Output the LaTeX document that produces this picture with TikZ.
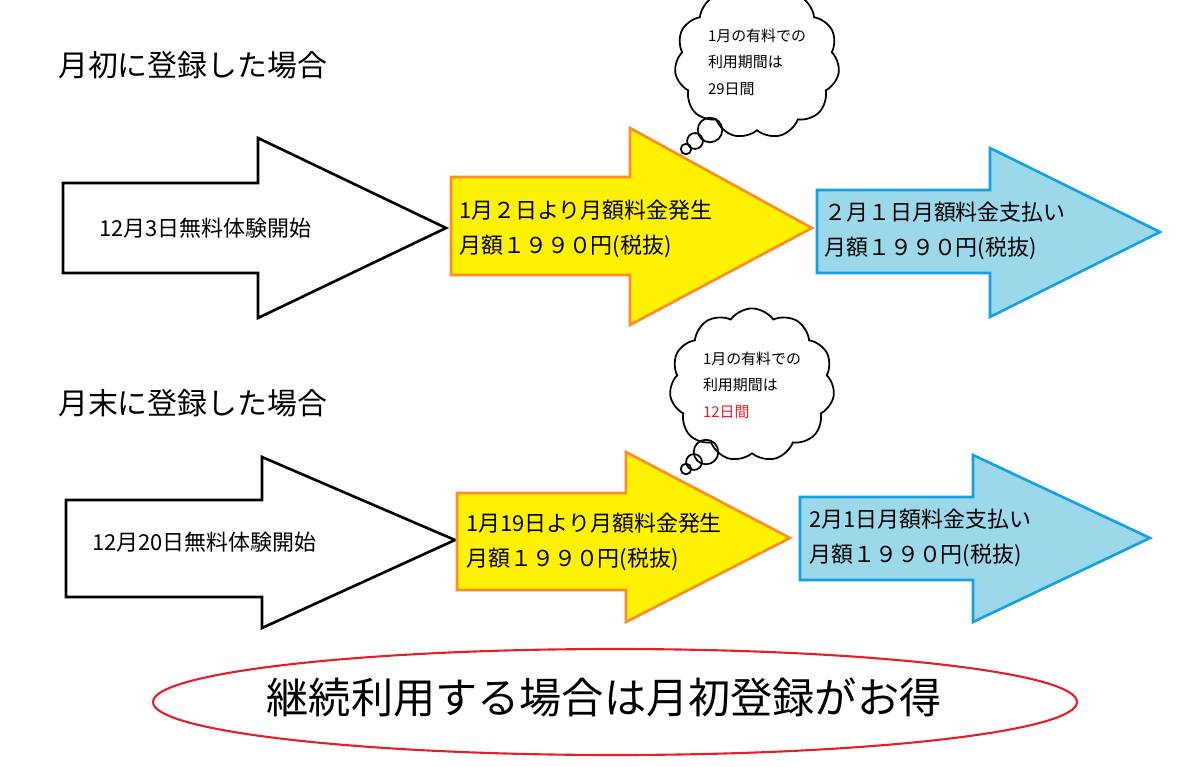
\documentclass[tikz,border=0pt]{standalone}
\usepackage{fontspec}
\setmainfont{Noto Sans CJK JP}
\usetikzlibrary{shapes.symbols}
\definecolor{YELLOW}{RGB}{255, 242, 0}
\definecolor{ORANGE}{RGB}{255, 140, 40}
\definecolor{SKY}{RGB}{155, 216, 234}
\definecolor{BLUE}{RGB}{20, 160, 225}
\definecolor{RED}{RGB}{230, 30, 40}
\tikzset{
  label/.style={anchor=west, font=\fontsize{12.5}{20}\selectfont, align=left},
  title/.style={anchor=west, font=\fontsize{17}{20}\selectfont},
  thought/.style={cloud, cloud puffs=11, cloud puff arc=110, draw, line width=1pt, minimum width=3.3cm, minimum height=2.5cm, inner sep=0pt, font=\fontsize{8.5}{15}\selectfont, align=left},
  bubble/.style={circle, draw, line width=1pt, inner sep=0pt}
}
\begin{document}
\begin{tikzpicture}[x=0.02cm, y=-0.02cm]
				\useasboundingbox (0,0) rectangle (1200,767);
				% first row
				\node[title] (t1) at (52,65) {月初に登録した場合};
				\draw[line width=1.5pt, fill=white] (63,183) -- (258,183) -- (258,138) -- (446,228) -- (258,318) -- (258,273) -- (63,273) -- cycle;
				\draw[line width=1.5pt, color=ORANGE, fill=YELLOW] (451,177) -- (630,177) -- (630,128) -- (812,228) -- (630,325) -- (630,275) -- (451,275) -- cycle;
				\draw[line width=1.5pt, color=BLUE, fill=SKY] (817,190) -- (990,190) -- (990,148) -- (1160,232) -- (990,317) -- (990,273) -- (817,273) -- cycle;
				\node[label] (a1) at (93,228) {12月3日無料体験開始};
				\node[label] (b1) at (453,229) {1月２日より月額料金発生\\月額１９９０円(税抜)};
				\node[label] (c1) at (818,231) {２月１日月額料金支払い\\月額１９９０円(税抜)};
				\node[thought] (k1) at (757,62) {1月の有料での\\利用期間は\\29日間};
				\node[bubble, minimum size=14pt] (p1) at (710,130) {};
				\node[bubble, minimum size=9pt] (q1) at (695,141) {};
				\node[bubble, minimum size=6pt] (r1) at (686,149) {};
				% second row
				\node[title] (t2) at (52,403) {月末に登録した場合};
				\draw[line width=1.5pt, fill=white] (66,500) -- (262,500) -- (262,457) -- (455,540) -- (262,628) -- (262,597) -- (66,597) -- cycle;
				\draw[line width=1.5pt, color=ORANGE, fill=YELLOW] (457,493) -- (626,493) -- (626,452) -- (790,538) -- (626,622) -- (626,590) -- (457,590) -- cycle;
				\draw[line width=1.5pt, color=BLUE, fill=SKY] (800,497) -- (973,497) -- (973,455) -- (1150,538) -- (973,622) -- (973,580) -- (800,580) -- cycle;
				\node[label] (a2) at (86,542) {12月20日無料体験開始};
				\node[label] (b2) at (460,542) {1月19日より月額料金発生\\月額１９９０円(税抜)};
				\node[label] (c2) at (803,538) {2月1日月額料金支払い\\月額１９９０円(税抜)};
				\node[thought] (k2) at (752,385) {1月の有料での\\利用期間は\\\textcolor{RED}{12日間}};
				\node[bubble, minimum size=14pt] (p2) at (706,452) {};
				\node[bubble, minimum size=9pt] (q2) at (694,462) {};
				\node[bubble, minimum size=6pt] (r2) at (686,469) {};
				% summary
				\draw[RED, line width=1.2pt] (615,702) ellipse (462 and 53);
				\node[font=\fontsize{24}{28}\selectfont] (s) at (604,697) {継続利用する場合は月初登録がお得};
\end{tikzpicture}
\end{document}
